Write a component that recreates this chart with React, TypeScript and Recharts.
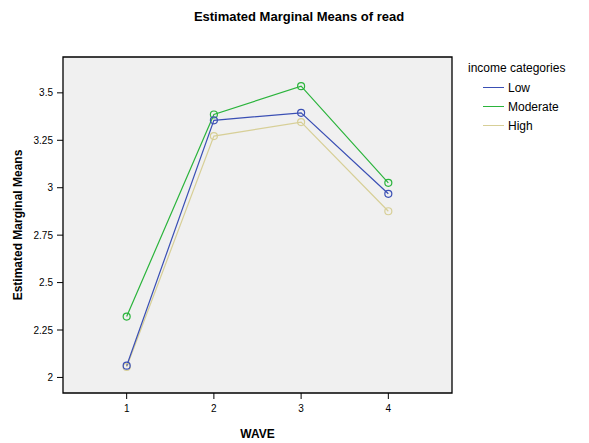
import React from "react";
import { ComposedChart, Line, XAxis, YAxis, ReferenceArea } from "recharts";

const waves = [1, 2, 3, 4];
const low = [2.062, 3.355, 3.395, 2.968];
const moderate = [2.321, 3.386, 3.535, 3.026];
const high = [2.055, 3.272, 3.346, 2.876];
const yTicks = [2, 2.25, 2.5, 2.75, 3, 3.25, 3.5];
const yTickLabels = ["2", "2.25", "2.5", "2.75", "3", "3.25", "3.5"];

const series = [
  { key: "Low", name: "Low", values: low, color: "#3a4fb4" },
  { key: "Moderate", name: "Moderate", values: moderate, color: "#2bb43c" },
  { key: "High", name: "High", values: high, color: "#d7cf97" },
];

const data = waves.map((w, i) => ({
  wave: w,
  Low: low[i],
  Moderate: moderate[i],
  High: high[i],
}));

const FONT = "'Liberation Sans', Arial, Helvetica, sans-serif";
const X_DOMAIN: [number, number] = [0.27, 4.73];
const Y_DOMAIN: [number, number] = [1.918, 3.689];

const LegendBox = () => (
  <div style={{ position: "absolute", left: 468, top: 59, fontFamily: FONT, fontSize: 12, color: "#000" }}>
    <div style={{ height: 19, lineHeight: "19px", whiteSpace: "nowrap" }}>income categories</div>
    {series.map((s) => (
      <div key={s.key} style={{ display: "flex", alignItems: "center", height: 19, paddingLeft: 15, whiteSpace: "nowrap" }}>
        <div style={{ width: 21, height: 1, background: s.color, marginRight: 4 }} />
        <span>{s.name}</span>
      </div>
    ))}
  </div>
);

const YLabel = (props: any) => {
  const vb = props.viewBox || {};
  const cy = vb.y + vb.height / 2;
  const cx = 18;
  return (
    <text
      x={cx}
      y={cy}
      transform={`rotate(-90 ${cx} ${cy})`}
      textAnchor="middle"
      dominantBaseline="central"
      style={{ fontFamily: FONT, fontSize: 12, fontWeight: "bold", fill: "#000" }}
    >
      Estimated Marginal Means
    </text>
  );
};

const Dot = (color: string) => (props: any) => {
  const { cx, cy } = props;
  if (cx == null || cy == null) return <g />;
  return <circle cx={cx} cy={cy} r={3.5} fill="none" stroke={color} strokeWidth={1.2} />;
};

export default function App() {
  const order = [series[2], series[1], series[0]];
  return (
    <div style={{ position: "absolute", left: 0, top: 0, width: 589, height: 443, background: "#fff" }}>
      <div
        style={{
          position: "absolute",
          left: 0,
          width: 598,
          top: 9,
          textAlign: "center",
          fontFamily: FONT,
          fontSize: 13,
          fontWeight: "bold",
          color: "#000",
        }}
      >
        Estimated Marginal Means of read
      </div>
      <LegendBox />
      <ComposedChart
        width={589}
        height={443}
        data={data}
        margin={{ top: 57, right: 137, bottom: 0, left: 0 }}
        style={{ position: "absolute", left: 0, top: 0 }}
      >
        <ReferenceArea
          x1={X_DOMAIN[0]}
          x2={X_DOMAIN[1]}
          y1={Y_DOMAIN[0]}
          y2={Y_DOMAIN[1]}
          fill="#f0f0f0"
          fillOpacity={1}
          stroke="#000"
          strokeWidth={1.3}
          ifOverflow="extendDomain"
        />
        <XAxis
          dataKey="wave"
          type="number"
          domain={X_DOMAIN}
          ticks={waves}
          tickFormatter={(v: number) => String(v)}
          height={50}
          axisLine={false}
          tickLine={{ stroke: "#000" }}
          tickSize={6}
          tickMargin={6}
          tick={{ fontFamily: FONT, fontSize: 10, fill: "#000" }}
          allowDataOverflow
          label={{
            value: "WAVE",
            position: "insideBottom",
            offset: 5,
            style: { fontFamily: FONT, fontSize: 12, fontWeight: "bold", fill: "#000" },
          }}
        />
        <YAxis
          type="number"
          domain={Y_DOMAIN}
          ticks={yTicks}
          tickFormatter={(v: number) => yTickLabels[yTicks.indexOf(v)] ?? String(v)}
          width={63}
          axisLine={false}
          tickLine={{ stroke: "#000" }}
          tickSize={6}
          tickMargin={4}
          tick={{ fontFamily: FONT, fontSize: 10, fill: "#000" }}
          allowDataOverflow
          label={<YLabel />}
        />
        {order.map((s) => (
          <Line
            key={s.key}
            dataKey={s.key}
            name={s.name}
            stroke={s.color}
            strokeWidth={1.2}
            dot={Dot(s.color)}
            activeDot={false}
            isAnimationActive={false}
            type="linear"
          />
        ))}
      </ComposedChart>
    </div>
  );
}
